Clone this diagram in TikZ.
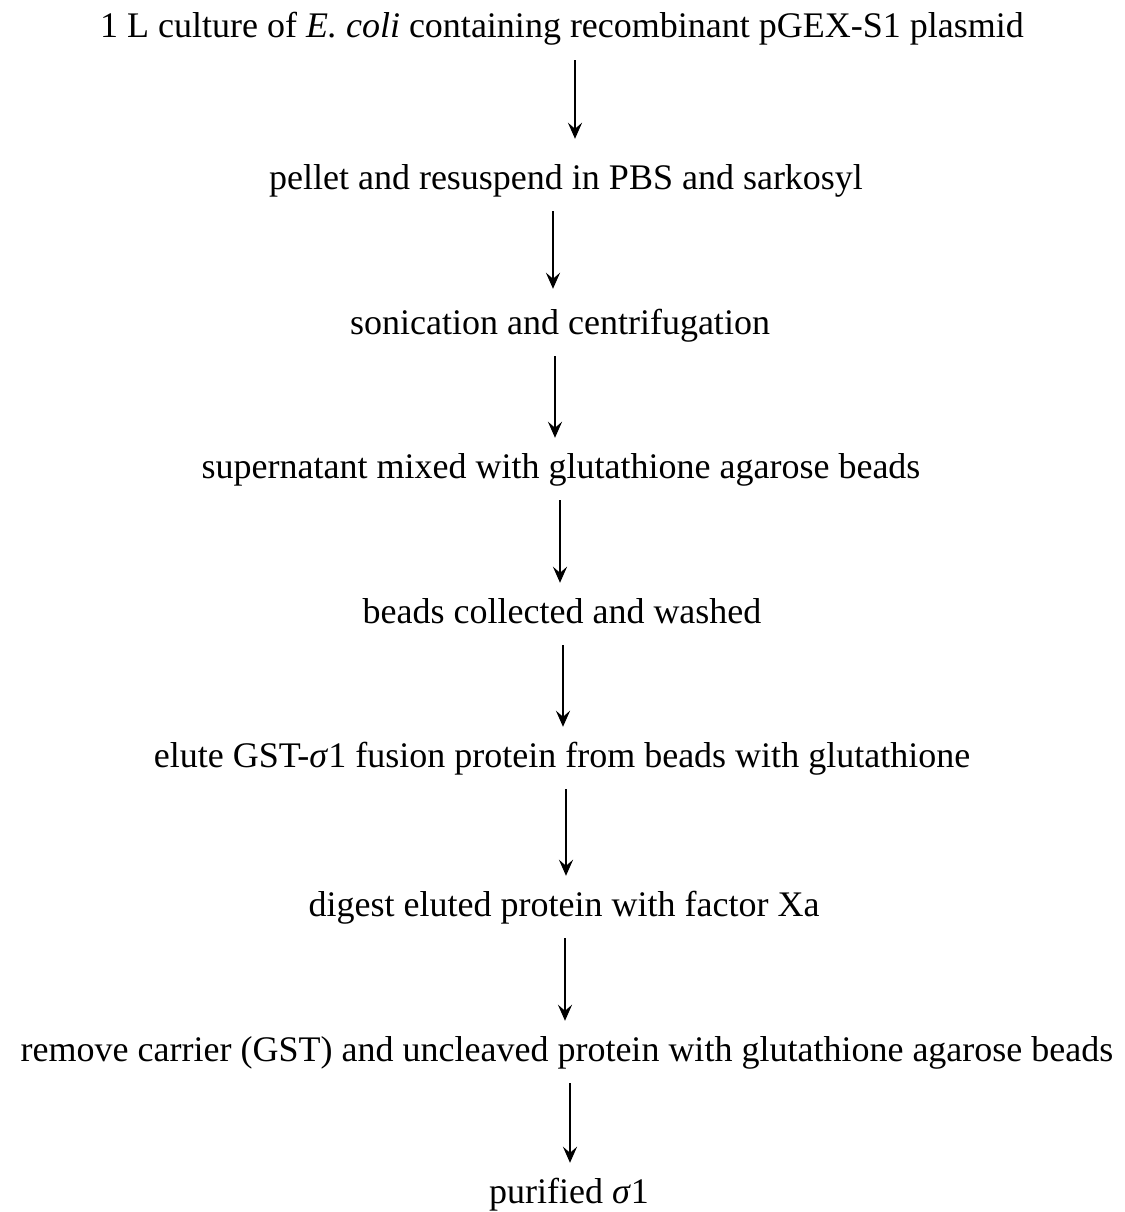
\documentclass[tikz,border=0pt]{standalone}
\usepackage{fontspec}
\setmainfont{Liberation Serif}
\usetikzlibrary{arrows.meta}
\newcommand{\sig}{\textit{σ}}
\begin{document}
\begin{tikzpicture}[x=1pt,y=-1pt,
  stepbox/.style={inner sep=0pt,anchor=base,text height=24pt,text depth=7pt,font=\fontsize{36}{42}\selectfont},
  arr/.style={line width=2.8pt,-{Stealth[length=16pt,width=14pt,inset=6pt]},shorten <=15pt,shorten >=16pt}]
\useasboundingbox (0,0) rectangle (1124,1212);
\node[stepbox] (s1) at (562,38) {1 L culture of \textit{E. coli} containing recombinant pGEX-S1 plasmid};
\node[stepbox] (s2) at (566,189) {pellet and resuspend in PBS and sarkosyl};
\node[stepbox] (s3) at (560,334) {sonication and centrifugation};
\node[stepbox] (s4) at (561,478) {supernatant mixed with glutathione agarose beads};
\node[stepbox] (s5) at (562,623) {beads collected and washed};
\node[stepbox] (s6) at (562,767) {elute GST-\sig1 fusion protein from beads with glutathione};
\node[stepbox] (s7) at (564,916) {digest eluted protein with factor Xa};
\node[stepbox] (s8) at (567,1061) {remove carrier (GST) and uncleaved protein with glutathione agarose beads};
\node[stepbox] (s9) at (569,1203) {purified \sig1};
\draw[arr,shorten >=26pt] ([xshift=13pt]s1.south) -- ([xshift=13pt]s1.south |- s2.north);
\draw[arr,shorten >=21pt] ([xshift=-13pt]s2.south) -- ([xshift=-13pt]s2.south |- s3.north);
\draw[arr] ([xshift=-5pt]s3.south) -- ([xshift=-5pt]s3.south |- s4.north);
\draw[arr] ([xshift=-1pt]s4.south) -- ([xshift=-1pt]s4.south |- s5.north);
\draw[arr] ([xshift=1pt]s5.south) -- ([xshift=1pt]s5.south |- s6.north);
\draw[arr] ([xshift=4pt]s6.south) -- ([xshift=4pt]s6.south |- s7.north);
\draw[arr] ([xshift=1pt]s7.south) -- ([xshift=1pt]s7.south |- s8.north);
\draw[arr] ([xshift=3pt]s8.south) -- ([xshift=3pt]s8.south |- s9.north);
\end{tikzpicture}
\end{document}
